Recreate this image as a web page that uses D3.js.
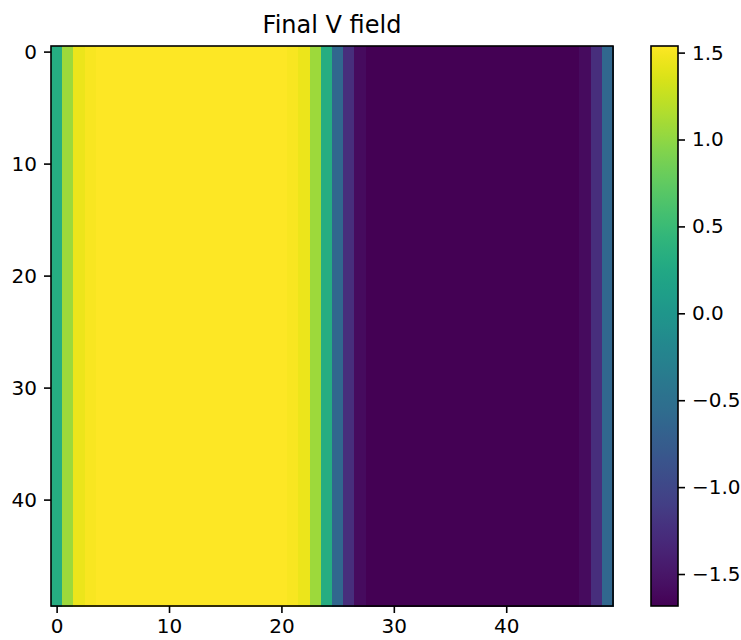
<!DOCTYPE html>
<html lang="en">
  <head>
    <meta charset="UTF-8" />
    <title>Final V field</title>
    <script src="https://d3js.org/d3.v7.min.js"></script>
    <style>
      body { margin: 0; background: #fff; }
      svg { display: block; font-family: "DejaVu Sans", sans-serif; }
    </style>
  </head>
  <body>
    <svg width="741" height="640"></svg>
    <script>
      // one value per column, every row of the field is the same
      var columnValues = [
        0.31, 1.06, 1.44, 1.506,
        1.538, 1.538, 1.538, 1.538, 1.538, 1.538, 1.538, 1.538, 1.538,
        1.538, 1.538, 1.538, 1.538, 1.538, 1.538, 1.538, 1.538,
        1.506, 1.44, 1.06, 0.31, -0.62, -1.265, -1.587,
        -1.684, -1.684, -1.684, -1.684, -1.684, -1.684, -1.684, -1.684,
        -1.684, -1.684, -1.684, -1.684, -1.684, -1.684, -1.684, -1.684,
        -1.684, -1.684, -1.684,
        -1.587, -1.265, -0.62
      ];
      var rowCount = 50;
      var xTicks = [0, 10, 20, 30, 40];
      var yTicks = [0, 10, 20, 30, 40];
      var cbarTicks = [1.5, 1.0, 0.5, 0.0, -0.5, -1.0, -1.5];
      var valueMin = -1.684, valueMax = 1.538;

      var cells = [];
      for (var r = 0; r < rowCount; r++) {
        columnValues.forEach(function (v, c) {
          cells.push({ row: r, col: c, value: v });
        });
      }

      var svg = d3.select("svg");
      var plot = { left: 51, right: 613, top: 46, bottom: 606 };
      var cbar = { left: 651, width: 27, top: 46, bottom: 606 };

      var x = d3.scaleLinear().domain([-0.5, columnValues.length - 0.5]).range([plot.left, plot.right]);
      var y = d3.scaleLinear().domain([-0.5, rowCount - 0.5]).range([plot.top, plot.bottom]);
      var color = d3.scaleSequential(d3.interpolateViridis).domain([valueMin, valueMax]);

      svg.append("g")
        .attr("shape-rendering", "crispEdges")
        .selectAll("rect")
        .data(cells)
        .enter()
        .append("rect")
        .attr("x", function (d) { return x(d.col - 0.5); })
        .attr("y", function (d) { return y(d.row - 0.5); })
        .attr("width", function (d) { return x(d.col + 0.5) - x(d.col - 0.5) + 0.5; })
        .attr("height", function (d) { return y(d.row + 0.5) - y(d.row - 0.5) + 0.5; })
        .attr("fill", function (d) { return color(d.value); });

      function styleAxis(g) {
        g.select(".domain").remove();
        g.selectAll(".tick line").attr("stroke", "#000").attr("stroke-width", 1.6);
        g.selectAll(".tick text").attr("fill", "#000").attr("font-size", 20)
          .attr("font-family", "DejaVu Sans, sans-serif");
      }

      svg.append("g")
        .attr("transform", "translate(0," + plot.bottom + ")")
        .call(d3.axisBottom(x).tickValues(xTicks).tickSize(7).tickPadding(6))
        .call(styleAxis);

      svg.append("g")
        .attr("transform", "translate(" + plot.left + ",0)")
        .call(d3.axisLeft(y).tickValues(yTicks).tickSize(7).tickPadding(7))
        .call(styleAxis);

      svg.append("rect")
        .attr("x", plot.left).attr("y", plot.top)
        .attr("width", plot.right - plot.left).attr("height", plot.bottom - plot.top)
        .attr("fill", "none").attr("stroke", "#000").attr("stroke-width", 1.6);

      svg.append("text")
        .attr("x", (plot.left + plot.right) / 2)
        .attr("y", 33)
        .attr("text-anchor", "middle")
        .attr("font-size", 24)
        .attr("fill", "#000")
        .text("Final V field");

      // colorbar
      var cy = d3.scaleLinear().domain([valueMin, valueMax]).range([cbar.bottom, cbar.top]);
      var grad = svg.append("defs").append("linearGradient")
        .attr("id", "cbar-grad")
        .attr("x1", 0).attr("y1", 1).attr("x2", 0).attr("y2", 0);
      grad.selectAll("stop")
        .data(d3.range(0, 1.0001, 0.02))
        .enter()
        .append("stop")
        .attr("offset", function (t) { return t; })
        .attr("stop-color", function (t) { return color(valueMin + t * (valueMax - valueMin)); });

      svg.append("rect")
        .attr("x", cbar.left).attr("y", cbar.top)
        .attr("width", cbar.width).attr("height", cbar.bottom - cbar.top)
        .attr("fill", "url(#cbar-grad)")
        .attr("stroke", "#000").attr("stroke-width", 1.6);

      svg.append("g")
        .attr("transform", "translate(" + (cbar.left + cbar.width) + ",0)")
        .call(d3.axisRight(cy).tickValues(cbarTicks).tickSize(7).tickPadding(7)
          .tickFormat(function (d) { return d3.format(".1f")(d).replace("-", "\u2212"); }))
        .call(styleAxis);
    </script>
  </body>
</html>
